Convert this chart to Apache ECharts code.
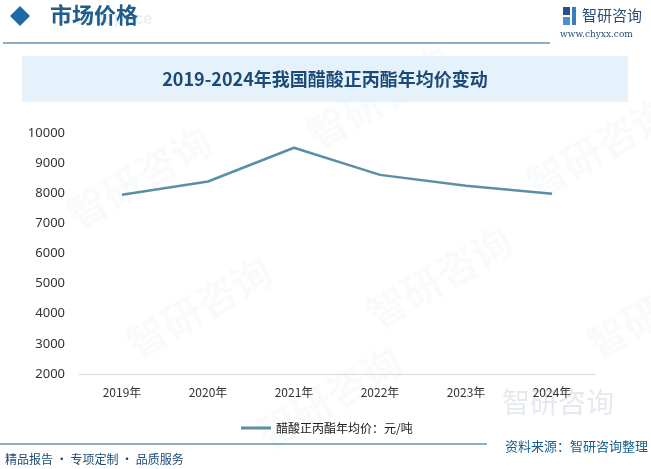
<!DOCTYPE html>
<html><head><meta charset="utf-8">
<script src="https://cdn.jsdelivr.net/npm/echarts@6/dist/echarts.min.js"></script>
<style>html,body{margin:0;padding:0;background:#fff}#c{width:651px;height:469px}</style>
</head><body><div id="c"></div>
<script>
const categories = ['2019年','2020年','2021年','2022年','2023年','2024年'];
const prices = [7950, 8390, 9510, 8610, 8250, 7980];
const seriesName = '醋酸正丙酯年均价：元/吨';
const chartTitle = '2019-2024年我国醋酸正丙酯年均价变动';

const chart = echarts.init(document.getElementById('c'));
const wm = [];
const wmPos = [[60,200],[300,120],[520,170],[120,330],[360,300],[580,330],[250,420]];
wmPos.forEach(p => wm.push({type:'text', x:p[0], y:p[1], rotation:Math.PI/6, silent:true, z:-1,
  style:{text:'智研咨询', fill:'rgba(210,222,232,0.14)', font:'bold 40px "Noto Sans CJK SC"'}}));
chart.setOption({
  animation:false,
  graphic:[
    ...wm,
    {type:'polygon', shape:{points:[[20,6],[30,16],[20,26],[10,16]]}, style:{fill:'#1e6aa8'}},
    {type:'text', x:58, y:12, style:{text:'Market price', fill:'rgba(30,100,160,0.10)', font:'bold 16px "Liberation Sans"'}},
    {type:'text', x:50, y:4, style:{text:'市场价格', fill:'#1f5d8c', font:'bold 22px "Noto Sans CJK SC"'}},
    {type:'line', shape:{x1:3,y1:43,x2:550,y2:43}, style:{stroke:'#1a5e8e', lineWidth:1.2}},
    {type:'rect', shape:{x:563,y:7,width:7,height:8}, style:{fill:'#2a4f8a'}},
    {type:'rect', shape:{x:563,y:17,width:7,height:8}, style:{fill:'#4a90d0'}},
    {type:'rect', shape:{x:572,y:7,width:4,height:18}, style:{fill:'#3a7cc0'}},
    {type:'text', x:582, y:8, style:{text:'智研咨询', fill:'#2a4f7a', font:'15px "Noto Sans CJK SC"'}},
    {type:'text', x:560, y:30, style:{text:'www.chyxx.com', fill:'#2a4f7a', font:'9px "DejaVu Serif"'}},
    {type:'rect', shape:{x:22,y:56,width:606,height:46}, style:{fill:'#e6f2fb'}},
    {type:'text', x:325, y:79, style:{text:chartTitle, fill:'#1a4a78', font:'bold 18px "Noto Sans CJK SC"', align:'center', verticalAlign:'middle'}},
    {type:'text', x:502, y:388, style:{text:'智研咨询', fill:'rgba(190,200,210,0.4)', font:'28px "Noto Sans CJK SC"'}},
    {type:'line', shape:{x1:0,y1:444,x2:487,y2:444}, style:{stroke:'#1a5e8e', lineWidth:1.2}},
    {type:'text', x:648, y:446, style:{text:'资料来源：智研咨询整理', fill:'#1a5e8e', font:'13px "Noto Sans CJK SC"', align:'right', verticalAlign:'middle'}},
    {type:'text', x:5, y:459, style:{text:'精品报告 · 专项定制 · 品质服务', fill:'#1a4a78', font:'12px "Noto Sans CJK SC"', verticalAlign:'middle'}}
  ],
  grid:{left:79, right:56, top:133, bottom:95},
  legend:{data:[seriesName], left:236, top:417, itemWidth:30, itemHeight:3, icon:'rect', itemGap:4,
    textStyle:{color:'#222', fontSize:12, fontFamily:'Noto Sans CJK SC'}},
  xAxis:{type:'category', data:categories, boundaryGap:true,
    axisLine:{lineStyle:{color:'#d9d9d9'}}, axisTick:{show:false},
    axisLabel:{color:'#333', fontSize:12, margin:12, fontFamily:'Noto Sans CJK SC'}},
  yAxis:{type:'value', min:2000, max:10000, interval:1000,
    axisLine:{show:false}, axisTick:{show:false}, splitLine:{show:false},
    axisLabel:{color:'#333', fontSize:13, margin:14, fontFamily:'Noto Sans', formatter:v => String(v)}},
  series:[{name:seriesName, type:'line', data:prices, symbol:'none',
    lineStyle:{color:'#5b8fa8', width:2.5}, itemStyle:{color:'#5b8fa8'}}]
});
</script></body></html>
